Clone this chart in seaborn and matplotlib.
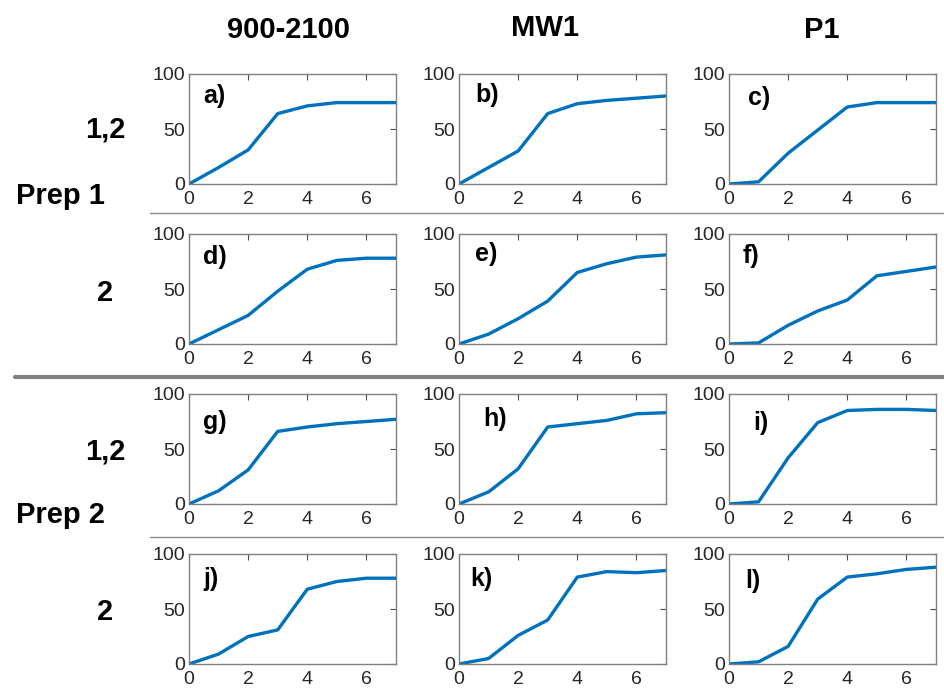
import matplotlib
matplotlib.use("Agg")
import matplotlib.pyplot as plt
import seaborn as sns
import pandas as pd
from matplotlib.lines import Line2D

sns.set_theme(style="white")
plt.rcParams['font.family'] = ['Liberation Sans', 'DejaVu Sans']
plt.rcParams['text.color'] = 'black'

x_vals = [0, 1, 2, 3, 4, 5, 6, 7]
col_titles = ["900-2100", "MW1", "P1"]
row_labels = ["1,2", "2", "1,2", "2"]
prep_labels = ["Prep 1", "Prep 2"]
panel_labels = ["a)", "b)", "c)", "d)", "e)", "f)", "g)", "h)", "i)", "j)", "k)", "l)"]

a_vals = [0, 15, 31, 64, 71, 74, 74, 74]
b_vals = [0, 15, 30, 64, 73, 76, 78, 80]
c_vals = [0, 2, 28, 49, 70, 74, 74, 74]
d_vals = [0, 13, 26, 48, 68, 76, 78, 78]
e_vals = [0, 9, 23, 39, 65, 73, 79, 81]
f_vals = [0, 1, 17, 30, 40, 62, 66, 70]
g_vals = [0, 12, 31, 66, 70, 73, 75, 77]
h_vals = [0, 11, 32, 70, 73, 76, 82, 83]
i_vals = [0, 2, 42, 74, 85, 86, 86, 85]
j_vals = [0, 9, 25, 31, 68, 75, 78, 78]
k_vals = [0, 5, 26, 40, 79, 84, 83, 85]
l_vals = [0, 2, 16, 59, 79, 82, 86, 88]

series = [a_vals, b_vals, c_vals, d_vals, e_vals, f_vals,
          g_vals, h_vals, i_vals, j_vals, k_vals, l_vals]

W, H = 944, 693
fig = plt.figure(figsize=(W / 100, H / 100), dpi=100)

col_lefts = [189, 459, 729]
ax_w = 207
row_tops = [74, 234, 394, 554]
ax_h = 110
blue = "#0072BD"
gray = "#4d4d4d"

# panel-label offsets inside each axes (pixels from left / top)
lab_dx = [14, 16, 19, 14, 16, 14, 14, 24, 24, 14, 11, 16]
lab_dy = [22, 21, 24, 23, 20, 22, 28, 25, 29, 25, 25, 27]

for idx, vals in enumerate(series):
    r, c = divmod(idx, 3)
    left = col_lefts[c] / W
    bottom = 1 - (row_tops[r] + ax_h) / H
    ax = fig.add_axes([left, bottom, ax_w / W, ax_h / H])
    df = pd.DataFrame({"x": x_vals, "y": vals})
    sns.lineplot(data=df, x="x", y="y", ax=ax, color=blue, linewidth=2.4)
    ax.set_xlim(0, 7)
    ax.set_ylim(0, 100)
    ax.set_xticks([0, 2, 4, 6])
    ax.set_yticks([0, 50, 100])
    ax.set_xlabel("")
    ax.set_ylabel("")
    ax.tick_params(direction="in", top=True, right=True, length=4,
                   width=0.8, color=gray, labelsize=14, labelcolor="#262626")
    ax.tick_params(axis="x", pad=5)
    ax.tick_params(axis="y", pad=3)
    for s in ax.spines.values():
        s.set_color("#808080")
        s.set_linewidth(1.0)
    ax.text(lab_dx[idx] / ax_w, 1 - lab_dy[idx] / ax_h, panel_labels[idx],
            transform=ax.transAxes, fontsize=18, fontweight="bold",
            va="center", ha="left", color="black")

# column titles
title_x = [289, 545, 822]
title_y = [30, 28, 30]
for t, xp, yp in zip(col_titles, title_x, title_y):
    fig.text(xp / W, 1 - yp / H, t, fontsize=21, fontweight="bold",
             ha="center", va="center", color="black")

# row labels
row_y = [130, 293, 452, 612]
for t, yp in zip(row_labels, row_y):
    fig.text(105 / W, 1 - yp / H, t, fontsize=21, fontweight="bold",
             ha="center", va="center", color="black")

prep_y = [196, 515]
for t, yp in zip(prep_labels, prep_y):
    fig.text(60 / W, 1 - yp / H, t, fontsize=21, fontweight="bold",
             ha="center", va="center", color="black")

# separator lines
fig.add_artist(Line2D([150 / W, 1], [1 - 213 / H, 1 - 213 / H],
                      color="#8c8c8c", linewidth=1.0, transform=fig.transFigure))
fig.add_artist(Line2D([150 / W, 1], [1 - 537 / H, 1 - 537 / H],
                      color="#8c8c8c", linewidth=1.0, transform=fig.transFigure))
fig.add_artist(Line2D([15 / W, 1], [1 - 377 / H, 1 - 377 / H],
                      color="#808080", linewidth=3.0, transform=fig.transFigure))

fig.savefig("out.png", dpi=100)
